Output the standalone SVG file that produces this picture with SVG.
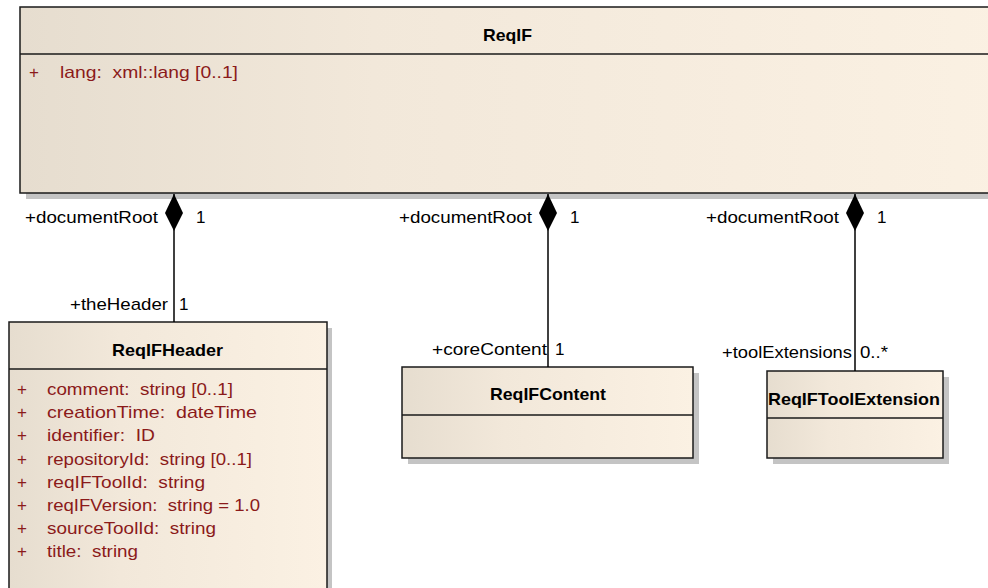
<svg xmlns="http://www.w3.org/2000/svg" width="988" height="588" viewBox="0 0 988 588">
<defs>
<linearGradient id="g" x1="0" y1="0" x2="1" y2="0">
<stop offset="0" stop-color="#e6ddcf"/>
<stop offset="0.35" stop-color="#f2e8da"/>
<stop offset="1" stop-color="#fbf1e3"/>
</linearGradient>
<style>
.box{fill:url(#g);stroke:#1a1a1a;stroke-width:1.5}
.sh{fill:#c4c4c4}
.sep{stroke:#1a1a1a;stroke-width:1.5}
.title{font-family:"Liberation Sans",Arial,sans-serif;font-size:17px;font-weight:bold;fill:#000}
.attr{font-family:"Liberation Sans",Arial,sans-serif;font-size:17px;fill:#8b1a1a}
.lbl{font-family:"Liberation Sans",Arial,sans-serif;font-size:17px;fill:#000}
.ln{stroke:#000;stroke-width:1.5;fill:none}
.dia{fill:#000}
</style>
</defs>
<rect width="988" height="588" fill="#fff"/>
<g id="ReqIF">
<rect class="sh" x="26" y="193" width="970" height="6"/>
<rect class="box" x="20" y="7" width="1010" height="186"/>
<line class="sep" x1="20" y1="54" x2="1030" y2="54"/>
<text class="title" x="483" y="41" textLength="49" lengthAdjust="spacingAndGlyphs">ReqIF</text>
<text class="attr" x="29" y="78">+</text>
<text class="attr" x="60" y="78" textLength="178" lengthAdjust="spacingAndGlyphs">lang:&#160; xml::lang [0..1]</text>
</g>
<g id="ReqIFHeader">
<rect class="sh" x="327" y="328" width="5" height="270"/>
<rect class="box" x="9" y="322" width="318" height="280"/>
<line class="sep" x1="9" y1="369" x2="327" y2="369"/>
<text class="title" x="112" y="356" textLength="111" lengthAdjust="spacingAndGlyphs">ReqIFHeader</text>
<g class="attr">
<text x="17" y="395">+</text><text x="47" y="395" textLength="186" lengthAdjust="spacingAndGlyphs">comment:&#160; string [0..1]</text>
<text x="17" y="418">+</text><text x="47" y="418" textLength="210" lengthAdjust="spacingAndGlyphs">creationTime:&#160; dateTime</text>
<text x="17" y="441">+</text><text x="47" y="441" textLength="108" lengthAdjust="spacingAndGlyphs">identifier:&#160; ID</text>
<text x="17" y="465">+</text><text x="47" y="465" textLength="205" lengthAdjust="spacingAndGlyphs">repositoryId:&#160; string [0..1]</text>
<text x="17" y="488">+</text><text x="47" y="488" textLength="158" lengthAdjust="spacingAndGlyphs">reqIFToolId:&#160; string</text>
<text x="17" y="511">+</text><text x="47" y="511" textLength="213" lengthAdjust="spacingAndGlyphs">reqIFVersion:&#160; string = 1.0</text>
<text x="17" y="534">+</text><text x="47" y="534" textLength="169" lengthAdjust="spacingAndGlyphs">sourceToolId:&#160; string</text>
<text x="17" y="557">+</text><text x="47" y="557" textLength="91" lengthAdjust="spacingAndGlyphs">title:&#160; string</text>
</g>
</g>
<g id="ReqIFContent">
<rect class="sh" x="408" y="373" width="291" height="91"/>
<rect class="box" x="402" y="367" width="291" height="91"/>
<line class="sep" x1="402" y1="415" x2="693" y2="415"/>
<text class="title" x="490" y="400" textLength="116" lengthAdjust="spacingAndGlyphs">ReqIFContent</text>
</g>
<g id="ReqIFToolExtension">
<rect class="sh" x="773" y="377" width="176" height="87"/>
<rect class="box" x="767" y="371" width="176" height="87"/>
<line class="sep" x1="767" y1="418" x2="943" y2="418"/>
<text class="title" x="768" y="405" textLength="172" lengthAdjust="spacingAndGlyphs">ReqIFToolExtension</text>
</g>
<g id="connectors">
<line class="ln" x1="174" y1="194" x2="174" y2="322"/>
<path class="dia" d="M174,194 L183,213 L174,231 L165,213 Z"/>
<text class="lbl" x="25" y="223" textLength="133" lengthAdjust="spacingAndGlyphs">+documentRoot</text>
<text class="lbl" x="196" y="223">1</text>
<text class="lbl" x="70" y="310" textLength="98" lengthAdjust="spacingAndGlyphs">+theHeader</text>
<text class="lbl" x="179" y="310">1</text>

<line class="ln" x1="548" y1="194" x2="548" y2="367"/>
<path class="dia" d="M548,194 L557,213 L548,231 L539,213 Z"/>
<text class="lbl" x="399" y="223" textLength="133" lengthAdjust="spacingAndGlyphs">+documentRoot</text>
<text class="lbl" x="570" y="223">1</text>
<text class="lbl" x="432" y="355" textLength="115" lengthAdjust="spacingAndGlyphs">+coreContent</text>
<text class="lbl" x="555" y="355">1</text>

<line class="ln" x1="855" y1="194" x2="855" y2="371"/>
<path class="dia" d="M855,194 L864,213 L855,231 L846,213 Z"/>
<text class="lbl" x="706" y="223" textLength="133" lengthAdjust="spacingAndGlyphs">+documentRoot</text>
<text class="lbl" x="877" y="223">1</text>
<text class="lbl" x="722" y="358" textLength="130" lengthAdjust="spacingAndGlyphs">+toolExtensions</text>
<text class="lbl" x="860" y="358" textLength="28" lengthAdjust="spacingAndGlyphs">0..*</text>
</g>
</svg>
